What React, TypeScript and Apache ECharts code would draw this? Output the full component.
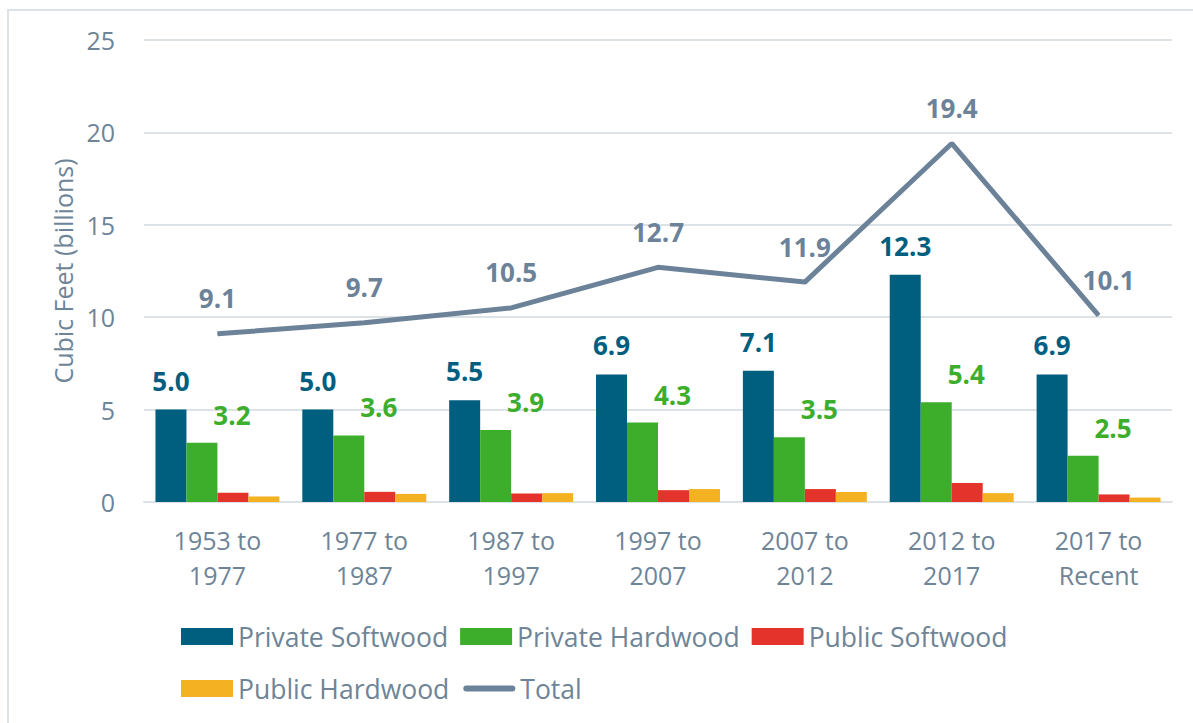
import React, { useEffect, useRef } from "react";
import * as echarts from "echarts";

const categories = [
  "1953 to\n1977",
  "1977 to\n1987",
  "1987 to\n1997",
  "1997 to\n2007",
  "2007 to\n2012",
  "2012 to\n2017",
  "2017 to\nRecent",
];
const privateSoftwood = [5.0, 5.0, 5.5, 6.9, 7.1, 12.3, 6.9];
const privateHardwood = [3.2, 3.6, 3.9, 4.3, 3.5, 5.4, 2.5];
const publicSoftwood = [0.5, 0.55, 0.46, 0.64, 0.7, 1.03, 0.41];
const publicHardwood = [0.3, 0.44, 0.48, 0.7, 0.54, 0.48, 0.24];
const total = [9.1, 9.7, 10.5, 12.7, 11.9, 19.4, 10.1];
const yTicks = { min: 0, max: 25, interval: 5 };

const C_BLUE = "#005e7f";
const C_GREEN = "#3dae2b";
const C_RED = "#e3332a";
const C_YELLOW = "#f4b223";
const C_LINE = "#6b8299";
const C_TEXT = "#6e8497";
const C_GRID = "#dde2e6";
const FONT = "'Open Sans', 'Noto Sans', sans-serif";
const LINE_ICON = "path://M3,0h46a3,3 0 0 1 0,6h-46a3,3 0 0 1 0,-6z";

export default function App() {
  const ref = useRef<HTMLDivElement>(null);
  useEffect(() => {
    if (!ref.current) return;
    const chart = echarts.init(ref.current, null, { renderer: "svg" });
    const fmt = (p: any) => Number(p.value).toFixed(1);
    const legendText = { fontSize: 26.5, color: C_TEXT, fontFamily: FONT };
    chart.setOption({
      animation: false,
      backgroundColor: "#ffffff",
      textStyle: { fontFamily: FONT },
      graphic: [
        {
          type: "polyline",
          shape: { points: [[8, 730], [8, 10], [1200, 10]] },
          style: { stroke: C_GRID, lineWidth: 2, fill: "none" },
        },
      ],
      grid: { left: 144, right: 21, top: 40, bottom: 221 },
      legend: [
        {
          left: 181,
          top: 623,
          padding: 0,
          itemWidth: 52,
          itemHeight: 17,
          itemGap: 12,
          icon: "rect",
          textStyle: legendText,
          data: ["Private Softwood", "Private Hardwood", "Public Softwood"],
        },
        {
          left: 181,
          top: 675,
          padding: 0,
          itemWidth: 52,
          itemHeight: 17,
          itemGap: 14,
          symbolKeepAspect: true,
          textStyle: legendText,
          data: [
            { name: "Public Hardwood", icon: "rect" },
            { name: "Total", icon: LINE_ICON },
          ],
        },
      ],
      xAxis: {
        type: "category",
        data: categories,
        axisLine: { show: true, lineStyle: { color: C_GRID, width: 2 } },
        axisTick: { show: false },
        axisLabel: {
          fontSize: 25,
          lineHeight: 35,
          color: C_TEXT,
          margin: 20,
          fontFamily: FONT,
        },
      },
      yAxis: {
        type: "value",
        min: yTicks.min,
        max: yTicks.max,
        interval: yTicks.interval,
        name: "Cubic Feet (billions)",
        nameLocation: "middle",
        nameGap: 69,
        nameTextStyle: { fontSize: 25, color: C_TEXT, fontFamily: FONT },
        axisLine: { show: false },
        axisTick: { show: false },
        axisLabel: { fontSize: 25, color: C_TEXT, margin: 29, fontFamily: FONT },
        splitLine: { lineStyle: { color: C_GRID, width: 2 } },
      },
      series: [
        {
          name: "Private Softwood",
          type: "bar",
          data: privateSoftwood,
          barGap: "0%",
          barCategoryGap: "15.6%",
          itemStyle: { color: C_BLUE },
          label: {
            show: true,
            position: "top",
            distance: 16,
            fontSize: 26,
            fontWeight: "bold",
            color: C_BLUE,
            fontFamily: FONT,
            formatter: fmt,
          },
        },
        {
          name: "Private Hardwood",
          type: "bar",
          data: privateHardwood,
          barGap: "0%",
          barCategoryGap: "15.6%",
          itemStyle: { color: C_GREEN },
          label: {
            show: true,
            position: "top",
            distance: 15,
            offset: [30, 0],
            fontSize: 26,
            fontWeight: "bold",
            color: C_GREEN,
            fontFamily: FONT,
            formatter: fmt,
          },
        },
        {
          name: "Public Softwood",
          type: "bar",
          data: publicSoftwood,
          barGap: "0%",
          barCategoryGap: "15.6%",
          itemStyle: { color: C_RED },
        },
        {
          name: "Public Hardwood",
          type: "bar",
          data: publicHardwood,
          barGap: "0%",
          barCategoryGap: "15.6%",
          itemStyle: { color: C_YELLOW },
        },
        {
          name: "Total",
          type: "line",
          z: 5,
          data: total.map((v, i) =>
            i === total.length - 1 ? { value: v, label: { offset: [10, 0] } } : v
          ),
          symbol: "circle",
          symbolSize: 1,
          itemStyle: { color: C_LINE },
          lineStyle: { color: C_LINE, width: 5 },
          label: {
            show: true,
            position: "top",
            distance: 22,
            fontSize: 26,
            fontWeight: "bold",
            color: C_LINE,
            fontFamily: FONT,
            formatter: fmt,
          },
        },
      ],
    });
    return () => chart.dispose();
  }, []);
  return (
    <div
      ref={ref}
      style={{ position: "absolute", left: 0, top: 0, width: 1193, height: 723 }}
    />
  );
}
